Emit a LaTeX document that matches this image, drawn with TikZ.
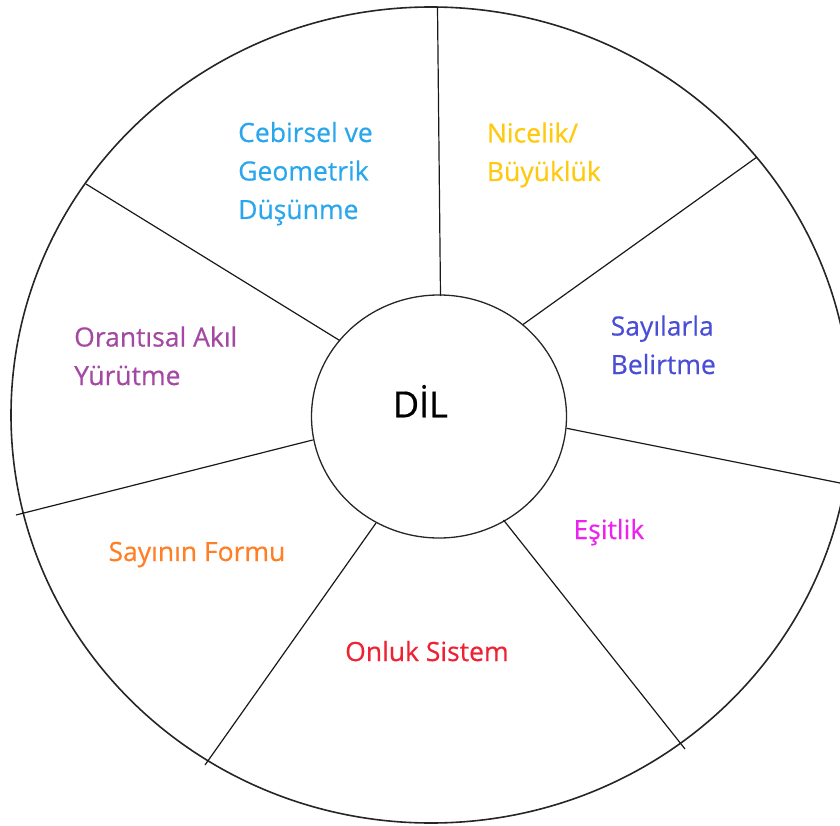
\documentclass[tikz,border=0pt]{standalone}
\usepackage{fontspec}
\setmainfont{Open Sans}
\newfontfamily\labelfont{Open Sans}[FakeBold=0.5]
\usetikzlibrary{shapes.geometric}
\definecolor{cebc}{HTML}{2AA7EC}
\definecolor{nicc}{HTML}{FFC90E}
\definecolor{sayc}{HTML}{4A4ED6}
\definecolor{orac}{HTML}{A349A4}
\definecolor{forc}{HTML}{FF7F27}
\definecolor{onlc}{HTML}{EE2233}
\definecolor{esic}{HTML}{EE22EE}
\begin{document}
\begin{tikzpicture}[x=1pt,y=-1pt,
  lbl/.style={anchor=base west, inner sep=0pt, align=left, font=\labelfont\fontsize{26.5}{38.5}\selectfont},
  ring/.style={ellipse, draw=black!85, line width=1.6pt, inner sep=0pt},
  spoke/.style={line width=1.2pt, draw=black!90}]
\useasboundingbox (0,0) rectangle (840,826);
\node[ring, minimum width=840, minimum height=816] (outer) at (431,415) {};
\node[ring, minimum width=255, minimum height=243, line width=1.3pt] (hub) at (439,416.5) {};
\node[anchor=base west, inner sep=0pt, font=\labelfont\fontsize{36}{40}\selectfont] (dil) at (392.7,417.3) {DİL};
% spoke end points
\coordinate (i1) at (440.5,296);   \coordinate (o1) at (437.5,7);
\coordinate (i2) at (523,324.5);   \coordinate (o2) at (757,157);
\coordinate (i3) at (566.7,428.3); \coordinate (o3) at (845,484);
\coordinate (i4) at (503.5,520);   \coordinate (o4) at (685,749);
\coordinate (i5) at (376,523);     \coordinate (o5) at (205,765);
\coordinate (i6) at (312.7,440);   \coordinate (o6) at (16,515);
\coordinate (i7) at (340,340.7);   \coordinate (o7) at (86,184);
\foreach \k in {1,...,7} {\draw[spoke] (i\k) -- (o\k);}
% labels (anchor = baseline of the last line)
\node[lbl, text=cebc] (ceb) at (238,219) {Cebirsel ve\\Geometrik\\Düşünme};
\node[lbl, text=nicc] (nic) at (486.7,181) {Nicelik/\\Büyüklük};
\node[lbl, text=sayc] (say) at (610.5,374) {Sayılarla\\Belirtme};
\node[lbl, text=orac] (ora) at (74,385) {Orantısal Akıl\\Yürütme};
\node[lbl, text=forc] (for) at (108.3,561) {Sayının Formu};
\node[lbl, text=onlc] (onl) at (345,661) {Onluk Sistem};
\node[lbl, text=esic] (esi) at (573.3,539) {Eşitlik};
\end{tikzpicture}
\end{document}
